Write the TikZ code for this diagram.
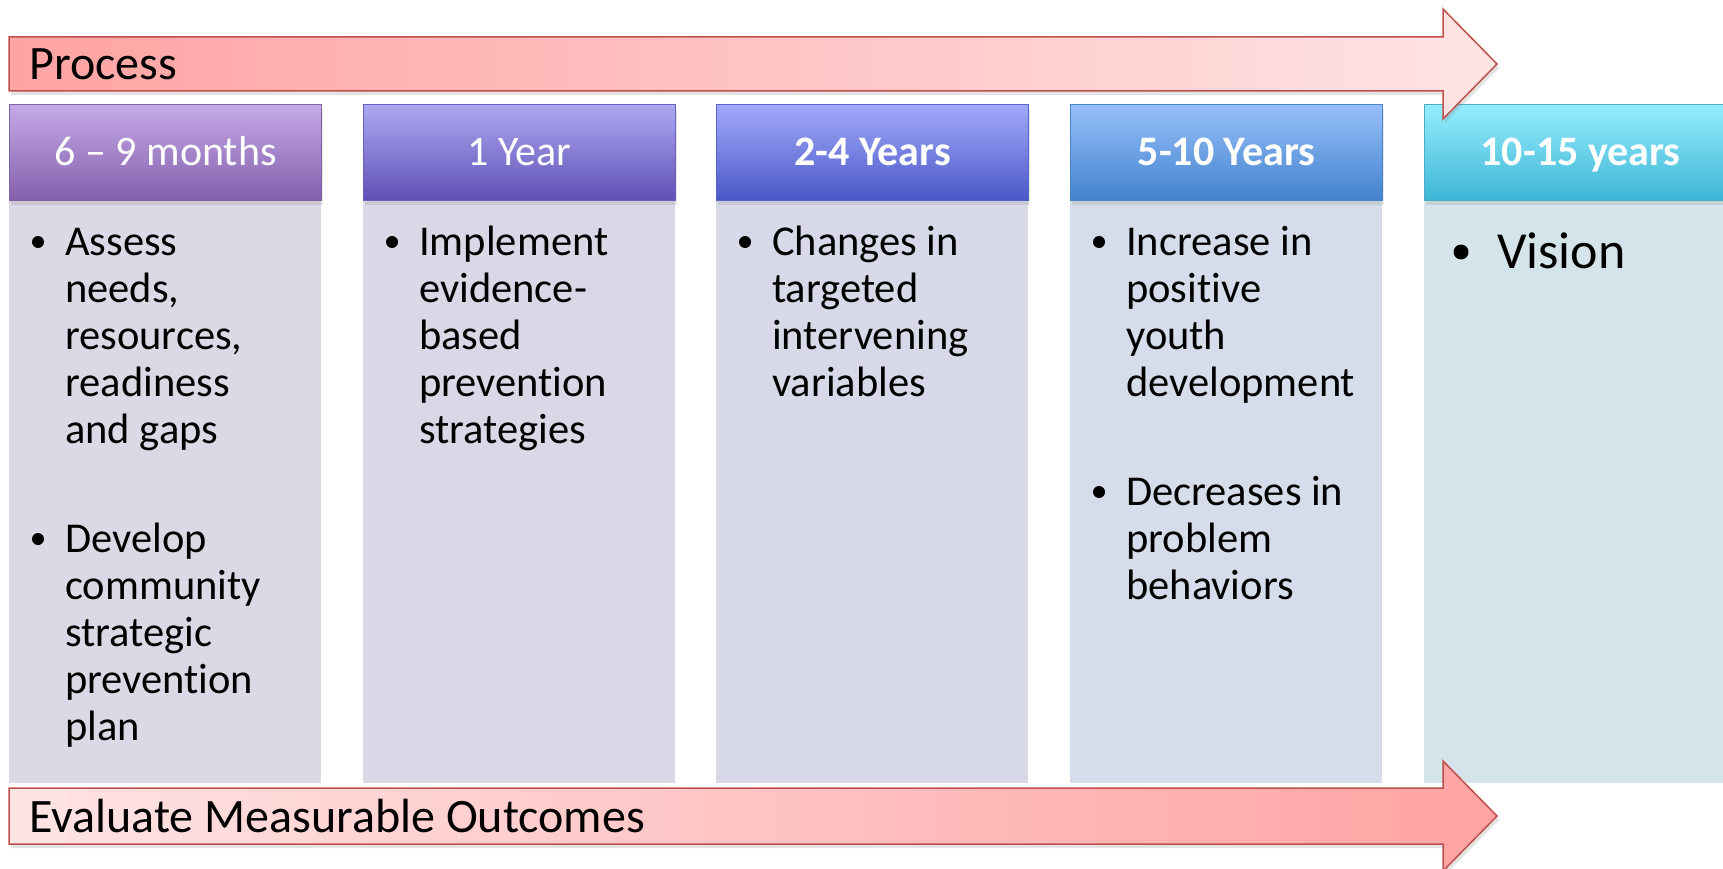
\documentclass[tikz,border=0pt]{standalone}
\usepackage{fontspec}
\setmainfont{Carlito}[Ligatures={NoCommon}]
\usetikzlibrary{shadows}
\definecolor{arrowred}{HTML}{C0504D}
\definecolor{arrowdark}{HTML}{FFA3A3}
\definecolor{arrowlight}{HTML}{FFE4E4}
\definecolor{hAtop}{HTML}{C5A9E8}\definecolor{hAbot}{HTML}{8360AB}\definecolor{hAbrd}{HTML}{8064A2}
\definecolor{hBtop}{HTML}{AEA8F2}\definecolor{hBbot}{HTML}{5E50B5}\definecolor{hBbrd}{HTML}{6B60BD}
\definecolor{hCtop}{HTML}{A2A9FA}\definecolor{hCbot}{HTML}{4A58C8}\definecolor{hCbrd}{HTML}{5565C7}
\definecolor{hDtop}{HTML}{97C0FA}\definecolor{hDbot}{HTML}{4282CD}\definecolor{hDbrd}{HTML}{4A85C8}
\definecolor{hEtop}{HTML}{95EDFC}\definecolor{hEbot}{HTML}{3DB5D6}\definecolor{hEbrd}{HTML}{4BACC6}
\definecolor{bA}{HTML}{DCD9E7}
\definecolor{bB}{HTML}{D9D8E7}
\definecolor{bC}{HTML}{D8D9E8}
\definecolor{bD}{HTML}{D4DDE9}
\definecolor{bE}{HTML}{D4E4EA}
\newcommand\mybody{\fontsize{42.5}{47}\selectfont}
\newcommand\myhead{\fontsize{42}{50}\selectfont}
\newcommand\myarrowfont{\fontsize{48}{57}\selectfont}
\newcommand\myvision{\fontsize{52}{62}\selectfont}
\begin{document}
\begin{tikzpicture}[x=1pt,y=-1pt,
  headbox/.style n args={3}{rectangle, anchor=north west, minimum width=312pt, minimum height=96pt,
    top color=#1, bottom color=#2, draw=#3, line width=1.2pt, inner sep=0pt,
    text height=26pt, text depth=0pt, text=white, font=\myhead,
    drop shadow={opacity=0.18, shadow xshift=1pt, shadow yshift=-4pt}},
  bodybox/.style={rectangle, anchor=north west, minimum width=312pt, minimum height=583pt, fill=#1, draw=none, inner sep=0pt},
  itemtext/.style={anchor=north west, align=left, inner sep=0pt, font=\mybody, text=black},
  bul/.style={circle, fill=black, inner sep=0pt, minimum size=12pt},
  arrowlabel/.style={anchor=base west, font=\myarrowfont, inner sep=0pt, text=black},
  bigarrow/.style={draw=arrowred, line width=1.5pt, line join=miter,
    drop shadow={opacity=0.22, shadow xshift=2pt, shadow yshift=-4pt}}
]
\useasboundingbox (0,0) rectangle (1723,869);
\fill[white] (0,0) rectangle (1723,869);
\clip (0,0) rectangle (1723,869);

% body boxes
\node[bodybox=bA] (b1) at (9,200) {};
\node[bodybox=bB] (b2) at (363,200) {};
\node[bodybox=bC] (b3) at (716,200) {};
\node[bodybox=bD] (b4) at (1070,200) {};
\node[bodybox=bE] (b5) at (1424,200) {};

% headers
\node[headbox={hAtop}{hAbot}{hAbrd}] (h1) at (9,104) {6 -- 9 months};
\node[headbox={hBtop}{hBbot}{hBbrd}] (h2) at (363,104) {1 Year};
\node[headbox={hCtop}{hCbot}{hCbrd}, font=\myhead\bfseries] (h3) at (716,104) {2-4 Years};
\node[headbox={hDtop}{hDbot}{hDbrd}, font=\myhead\bfseries] (h4) at (1070,104) {5-10 Years};
\node[headbox={hEtop}{hEbot}{hEbrd}, font=\myhead\bfseries] (h5) at (1424,104) {10-15 years};

% column 1
\node[bul] (d1a) at (38,242) {};
\node[itemtext] (t1a) at (65,222.1) {\strut Assess\\needs,\\resources,\\readiness\\and gaps};
\node[bul] (d1b) at (38,539) {};
\node[itemtext] (t1b) at (65,519.1) {\strut Develop\\community\\strategic\\prevention\\plan};

% column 2
\node[bul] (d2a) at (392,242) {};
\node[itemtext] (t2a) at (419,222.1) {\strut Implement\\evidence-\\based\\prevention\\strategies};

% column 3
\node[bul] (d3a) at (745,242) {};
\node[itemtext] (t3a) at (772,222.1) {\strut Changes in\\targeted\\intervening\\variables};

% column 4
\node[bul] (d4a) at (1099,242) {};
\node[itemtext] (t4a) at (1126,222.1) {\strut Increase in\\positive\\youth\\development};
\node[bul] (d4b) at (1099,492) {};
\node[itemtext] (t4b) at (1126,472.1) {\strut Decreases in\\problem\\behaviors};

% column 5
\node[bul, minimum size=15pt] (d5a) at (1461,252) {};
\node[anchor=base west, inner sep=0pt, font=\myvision] (t5a) at (1497,268) {Vision};

% arrows
\path[bigarrow, left color=arrowdark, right color=arrowlight]
  (9,37) -- (1443,37) -- (1443,9) -- (1497,64) -- (1443,119) -- (1443,91) -- (9,91) -- cycle;
\node[arrowlabel] (process) at (29,80) {Process};

\path[bigarrow, left color=arrowlight, right color=arrowdark]
  (9,788) -- (1443,788) -- (1443,761) -- (1497,816) -- (1443,871) -- (1443,844) -- (9,844) -- cycle;
\node[arrowlabel] (evaluate) at (29,832) {Evaluate Measurable Outcomes};
\end{tikzpicture}
\end{document}
